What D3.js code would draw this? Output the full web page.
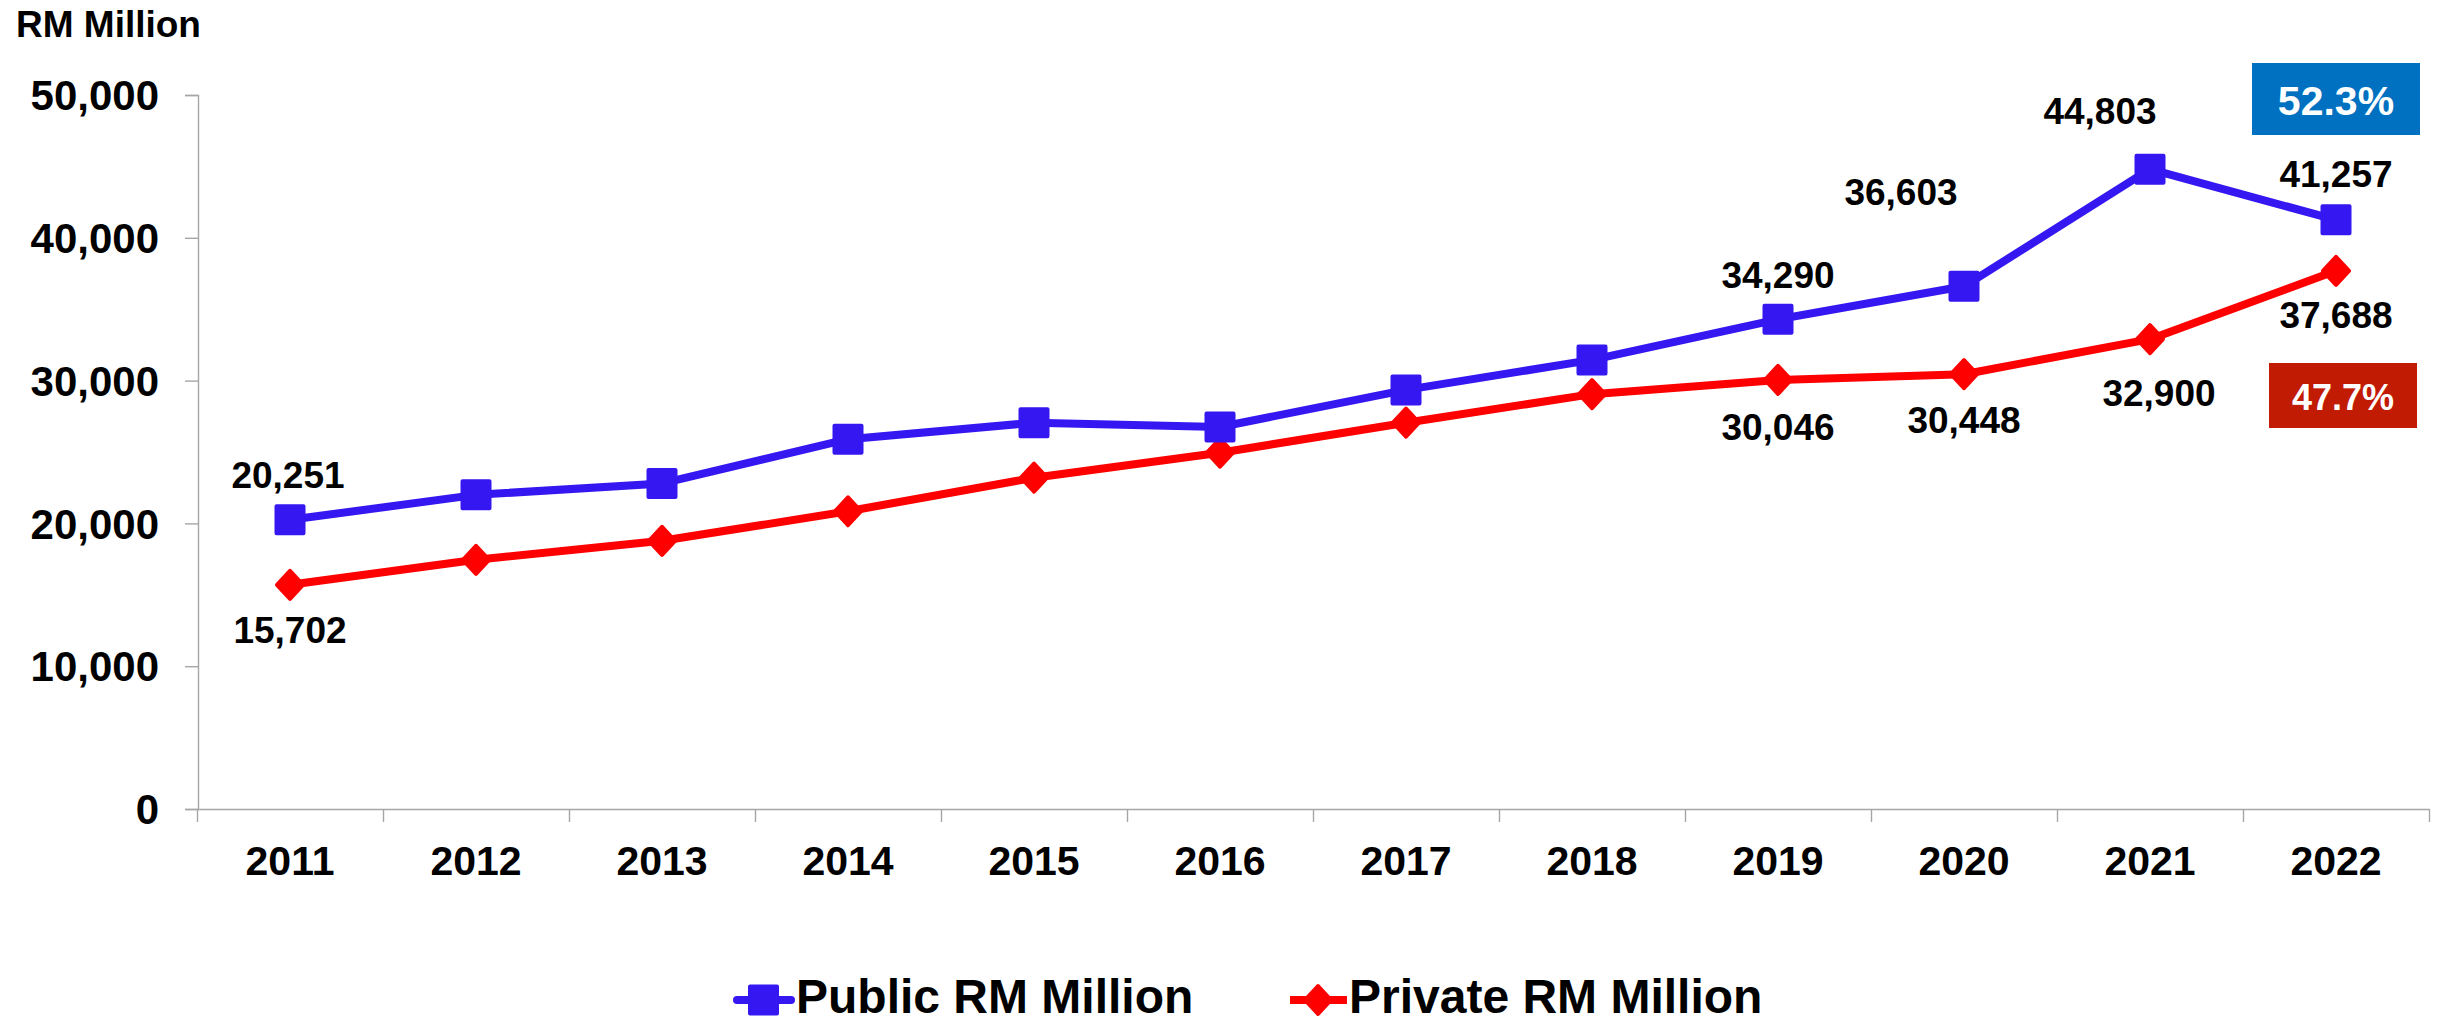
<!DOCTYPE html>
<html>
<head>
<meta charset="utf-8">
<script src="https://cdn.jsdelivr.net/npm/d3@7"></script>
<style>
  html, body { margin: 0; padding: 0; background: #ffffff; }
  svg { display: block; font-family: "Liberation Sans", Arial, sans-serif; font-weight: bold; }
</style>
</head>
<body>
<svg id="chart" width="2440" height="1024"></svg>
<script>
// ---- data ----
const years = ["2011","2012","2013","2014","2015","2016","2017","2018","2019","2020","2021","2022"];
const publicValues  = [20251, 22000, 22800, 25900, 27050, 26750, 29350, 31450, 34290, 36603, 44803, 41257];
const privateValues = [15702, 17450, 18780, 20850, 23200, 24950, 27050, 29050, 30046, 30448, 32900, 37688];
const yTicks = [0, 10000, 20000, 30000, 40000, 50000];
const seriesNames = ["Public RM Million", "Private RM Million"];
const labelledIdx = [0, 8, 9, 10, 11];
const shareLabels = ["52.3%", "47.7%"];
const yAxisTitle = "RM Million";

// ---- styling / layout ----
const blue = "#3517F2", red = "#FF0000", axisCol = "#A6A6A6";
const publicLabelOffset  = {0:[-2,-32], 8:[0,-31], 9:[-63,-81], 10:[-50,-45], 11:[0,-33]};
const privateLabelOffset = {0:[0,58], 8:[0,60], 9:[0,59], 10:[9,67], 11:[0,57]};

const svg = d3.select("#chart");
const x = d3.scaleBand().domain(years).range([197, 2429]);
const y = d3.scaleLinear().domain([0, 50000]).range([809, 95]);
const cx = d => x(d) + x.bandwidth() / 2;
const fmt = d3.format(",");

// title
svg.append("text").attr("x", 16).attr("y", 37).attr("font-size", 37).attr("fill", "#000").text(yAxisTitle);

// y axis
const yAxis = svg.append("g").attr("transform", "translate(198,0)")
  .call(d3.axisLeft(y).tickValues(yTicks).tickFormat(fmt).tickSize(13).tickPadding(26));
yAxis.selectAll("path, line").attr("stroke", axisCol).attr("stroke-width", 1.4);
yAxis.selectAll("text").attr("font-size", 42).attr("font-family", "Liberation Sans, Arial, sans-serif")
  .attr("font-weight", "bold").attr("fill", "#000").attr("dy", "0.35em");

// x axis
const xAxis = svg.append("g").attr("transform", "translate(0,809)")
  .call(d3.axisBottom(x).tickSize(0).tickSizeOuter(0));
xAxis.select("path").attr("stroke", axisCol).attr("stroke-width", 1.4);
xAxis.selectAll("text").attr("font-size", 41).attr("font-family", "Liberation Sans, Arial, sans-serif")
  .attr("font-weight", "bold").attr("fill", "#000").attr("y", 66).attr("dy", null);
// boundary ticks
const bounds = years.map(d => x(d)).concat([x(years[years.length-1]) + x.bandwidth()]);
svg.append("g").selectAll("line").data(bounds).join("line")
  .attr("x1", d => Math.round(d) + 0.5).attr("x2", d => Math.round(d) + 0.5)
  .attr("y1", 809).attr("y2", 822).attr("stroke", axisCol).attr("stroke-width", 1.4);

// lines
const line = d3.line().x((d, i) => cx(years[i])).y(d => y(d));
svg.append("path").datum(privateValues).attr("d", line).attr("fill", "none")
  .attr("stroke", red).attr("stroke-width", 8).attr("stroke-linejoin", "round");
svg.append("path").datum(publicValues).attr("d", line).attr("fill", "none")
  .attr("stroke", blue).attr("stroke-width", 8).attr("stroke-linejoin", "round");

// markers
const diamond = "M0,-14L13,0L0,14L-13,0Z";
svg.append("g").selectAll("path").data(privateValues).join("path")
  .attr("d", diamond).attr("transform", (d, i) => `translate(${cx(years[i])},${y(d)})`)
  .attr("fill", red).attr("stroke", red).attr("stroke-width", 4).attr("stroke-linejoin", "round");
svg.append("g").selectAll("rect").data(publicValues).join("rect")
  .attr("x", (d, i) => cx(years[i]) - 13.5).attr("y", d => y(d) - 13.5)
  .attr("width", 27).attr("height", 27)
  .attr("fill", blue).attr("stroke", blue).attr("stroke-width", 4).attr("stroke-linejoin", "round");

// data labels
svg.append("g").selectAll("text").data(labelledIdx).join("text")
  .attr("x", i => cx(years[i]) + publicLabelOffset[i][0])
  .attr("y", i => y(publicValues[i]) + publicLabelOffset[i][1])
  .attr("text-anchor", "middle").attr("font-size", 37).attr("fill", "#000")
  .text(i => fmt(publicValues[i]));
svg.append("g").selectAll("text").data(labelledIdx).join("text")
  .attr("x", i => cx(years[i]) + privateLabelOffset[i][0])
  .attr("y", i => y(privateValues[i]) + privateLabelOffset[i][1])
  .attr("text-anchor", "middle").attr("font-size", 37).attr("fill", "#000")
  .text(i => fmt(privateValues[i]));

// share boxes
const boxes = [
  {text: shareLabels[0], x: 2252, y: 63, w: 168, h: 72, fill: "#0070C0", fs: 41, by: 115},
  {text: shareLabels[1], x: 2269, y: 363, w: 148, h: 65, fill: "#C21B04", fs: 36, by: 410}
];
boxes.forEach(b => {
  svg.append("rect").attr("x", b.x).attr("y", b.y).attr("width", b.w).attr("height", b.h).attr("fill", b.fill);
  svg.append("text").attr("x", b.x + b.w / 2).attr("y", b.by).attr("text-anchor", "middle")
    .attr("font-size", b.fs).attr("fill", "#fff").text(b.text);
});

// legend
const lg = svg.append("g");
const ly = 1000, lb = 1013;
// public
lg.append("line").attr("x1", 737).attr("x2", 791).attr("y1", ly).attr("y2", ly)
  .attr("stroke", blue).attr("stroke-width", 8).attr("stroke-linecap", "round");
lg.append("rect").attr("x", 750).attr("y", ly - 13.5).attr("width", 27).attr("height", 27)
  .attr("fill", blue).attr("stroke", blue).attr("stroke-width", 4).attr("stroke-linejoin", "round");
lg.append("text").attr("x", 796).attr("y", lb).attr("font-size", 48).attr("fill", "#000").text(seriesNames[0]);
// private
lg.append("line").attr("x1", 1290).attr("x2", 1347).attr("y1", ly).attr("y2", ly)
  .attr("stroke", red).attr("stroke-width", 8);
lg.append("path").attr("d", diamond).attr("transform", `translate(1318,${ly})`)
  .attr("fill", red).attr("stroke", red).attr("stroke-width", 4).attr("stroke-linejoin", "round");
lg.append("text").attr("x", 1349).attr("y", lb).attr("font-size", 48).attr("fill", "#000").text(seriesNames[1]);
</script>
</body>
</html>
